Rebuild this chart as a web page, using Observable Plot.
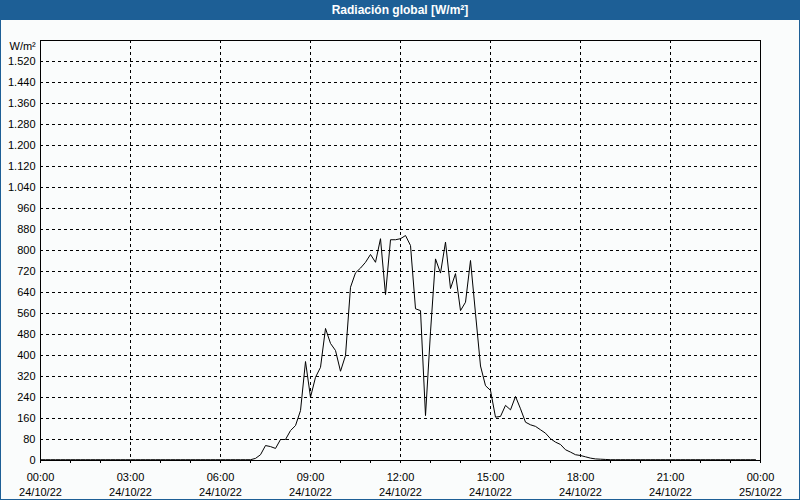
<!DOCTYPE html>
<html><head><meta charset="utf-8">
<script src="https://cdn.jsdelivr.net/npm/d3@7"></script>
<script src="https://cdn.jsdelivr.net/npm/@observablehq/plot@0.6"></script>
<style>
body{margin:0;background:#fafcfc;}
#wrap{position:relative;width:800px;height:500px;background:#fafcfc;font-family:"Liberation Sans",Arial,sans-serif;overflow:hidden;}
#title{height:20px;line-height:20px;background:#1d5f96;color:#fff;font-weight:bold;font-size:12px;text-align:center;}
#border{position:absolute;left:0;top:0;width:800px;height:500px;box-sizing:border-box;border:1px solid #1d5f96;pointer-events:none;}
#chart svg{display:block;}
</style></head>
<body><div id="wrap"><div id="title"></div><div id="chart"></div><div id="border"></div></div>
<script>
const chartTitle = "Radiación global [W/m²]";
const yUnit = "W/m²";
const stepMinutes = 10;
// global radiation, W/m², every 10 minutes from 24/10/22 00:00 to 23:50
const radiation = [
  3,3,3,3,3,3, 3,3,3,3,3,3, 3,3,3,3,3,3, 3,3,3,3,3,3, 3,3,3,3,3,3, 3,3,3,3,3,3, 3,3,3,3,3,3,
  3,8,22,57,53,46,
  80,80,114,133,190,377,
  241,317,355,503,446,419,
  340,400,660,715,733,755,
  785,755,845,632,841,841,
  845,857,819,578,571,171,
  490,768,714,832,655,712,
  571,603,762,560,360,285,
  267,165,168,210,193,244,
  197,146,136,130,117,104,
  83,70,61,41,32,22,
  19,14,9,6,5,4,
  3,3,3,3,3,3, 3,3,3,3,3,3, 3,3,3,3,3,3, 3,3,3,3,3,3, 3,3,3,3,3,3
];
const xTickHours = [0,3,6,9,12,15,18,21,24];
const xTickTimes = ["00:00","03:00","06:00","09:00","12:00","15:00","18:00","21:00","00:00"];
const xTickDates = ["24/10/22","24/10/22","24/10/22","24/10/22","24/10/22","24/10/22","24/10/22","24/10/22","25/10/22"];
const xMinorTicks = [0,1,2,3,4,5,6,7,8,9,10,11,12,13,14,15,16,17,18,19,20,21,22,23,24];
const yTicks = [0,80,160,240,320,400,480,560,640,720,800,880,960,1040,1120,1200,1280,1360,1440,1520];
const yMax = 1600;

document.getElementById("title").textContent = chartTitle;
const esFormat = d3.formatLocale({decimal: ",", thousands: ".", grouping: [3], currency: ["", "€"]}).format(",d");
const data = radiation.map((v, i) => ({hour: i * stepMinutes / 60, value: v}));

const chart = Plot.plot({
  width: 800, height: 480,
  marginTop: 20, marginBottom: 40, marginLeft: 40, marginRight: 40,
  style: {background: "transparent", fontFamily: "Liberation Sans, Arial, sans-serif", fontSize: "11px", color: "#000"},
  x: {type: "linear", domain: [0, 24]},
  y: {domain: [0, yMax]},
  marks: [
    Plot.gridY(yTicks.filter(d => d > 0), {stroke: "#000", strokeOpacity: 1, strokeDasharray: "3,3"}),
    Plot.gridX(xTickHours.filter(d => d > 0 && d < 24), {stroke: "#000", strokeOpacity: 1, strokeDasharray: "3,3"}),
    Plot.axisY(yTicks, {tickSize: 0, tickPadding: 5, tickFormat: esFormat, label: null}),
    Plot.axisX(xMinorTicks, {tickSize: 3, tickFormat: () => "", label: null}),
    Plot.axisX(xTickHours, {tickSize: 0, tickPadding: 10, lineHeight: 1.35, label: null,
      tickFormat: d => { const i = xTickHours.indexOf(d); return xTickTimes[i] + "\n" + xTickDates[i]; }}),
    Plot.text([yUnit], {frameAnchor: "top-left", dx: -31, dy: 6, textAnchor: "start", lineAnchor: "middle", fill: "#000"}),
    Plot.line(data, {x: "hour", y: "value", stroke: "#000", strokeWidth: 1}),
    Plot.frame({stroke: "#000", strokeWidth: 1})
  ]
});
document.getElementById("chart").appendChild(chart);
</script>
</body></html>
